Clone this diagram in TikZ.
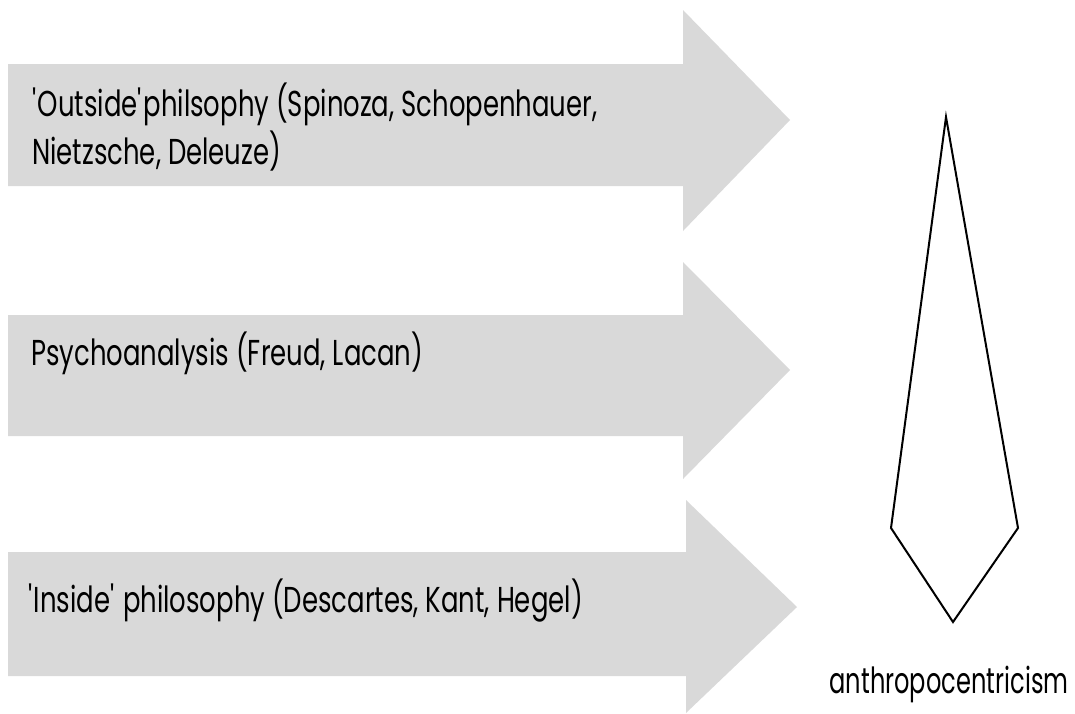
\documentclass[tikz,border=0pt]{standalone}
\usepackage{fontspec}
\setmainfont{Poppins}[FakeStretch=0.72]
\newfontfamily\anthrofont{Poppins}[FakeStretch=0.67]
\definecolor{arrowgrey}{HTML}{D9D9D9}
\begin{document}
\begin{tikzpicture}[x=1pt,y=-1pt,
  arrowshape/.style={fill=arrowgrey, draw=none},
  lbl/.style={anchor=base west, inner sep=0pt, font=\fontsize{36}{48}\selectfont, align=left},
  kite/.style={draw=black, line width=2pt, line join=miter}]
\useasboundingbox (0,0) rectangle (1075,713);
% arrows
\path[arrowshape] (8,64) -- (683,64) -- (683,10) -- (790,120) -- (683,231) -- (683,186) -- (8,186) -- cycle;
\path[arrowshape] (8,315) -- (683,315) -- (683,262) -- (790,370) -- (683,479) -- (683,436) -- (8,436) -- cycle;
\path[arrowshape] (8,552) -- (686,552) -- (686,500) -- (797,607) -- (686,713) -- (686,676) -- (8,676) -- cycle;
% labels (base anchor = baseline of last line)
\node[lbl] (outside) at (32,164) {\textquotesingle Outside\textquotesingle philsophy (Spinoza, Schopenhauer,\\Nietzsche, Deleuze)};
\node[lbl] (psycho) at (31,365) {Psychoanalysis (Freud, Lacan)};
\node[lbl] (inside) at (28,612) {\textquotesingle Inside\textquotesingle\ philosophy (Descartes, Kant, Hegel)};
% kite
\draw[kite] (946,117) coordinate (ktop) -- (1018,528) coordinate (kright) -- (953,622) coordinate (kbottom) -- (891,528) coordinate (kleft) -- cycle;
\node[font=\anthrofont\fontsize{36}{40}\selectfont, inner sep=0pt, anchor=base] (anthro) at (949,693) {anthropocentricism};
\end{tikzpicture}
\end{document}
